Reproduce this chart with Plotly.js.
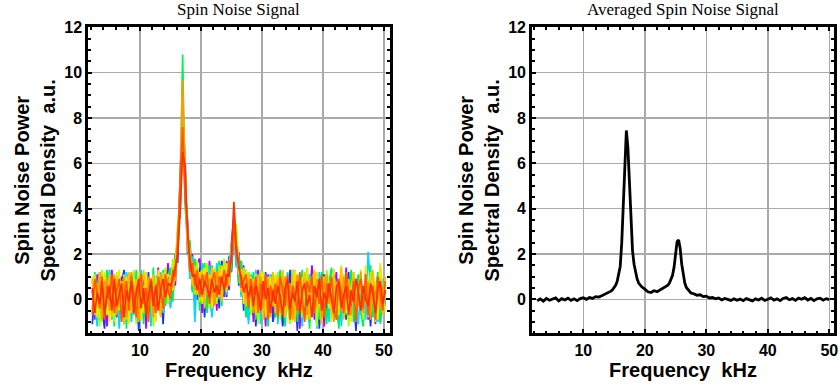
<!DOCTYPE html>
<html>
<head>
<meta charset="utf-8">
<script src="https://cdn.plot.ly/plotly-3.0.1.min.js"></script>
<style>html,body{margin:0;padding:0;background:#fff;}#chart{width:840px;height:392px;}</style>
</head>
<body>
<div id="chart"></div>
<script>
// Frequency grid (kHz) of the individual spectra
const freq = [2.2,2.6,3.0,3.4,3.8,4.2,4.6,5.0,5.4,5.8,6.2,6.6,7.0,7.4,7.8,8.2,8.6,9.0,9.4,9.8,
  10.2,10.6,11.0,11.4,11.8,12.2,12.6,13.0,13.4,13.8,14.2,14.6,15.0,15.4,15.8,16.2,16.6,17.0,17.4,17.8,
  18.2,18.6,19.0,19.4,19.8,20.2,20.6,21.0,21.4,21.8,22.2,22.6,23.0,23.4,23.8,24.2,24.6,25.0,25.4,25.8,
  26.2,26.6,27.0,27.4,27.8,28.2,28.6,29.0,29.4,29.8,30.2,30.6,31.0,31.4,31.8,32.2,32.6,33.0,33.4,33.8,
  34.2,34.6,35.0,35.4,35.8,36.2,36.6,37.0,37.4,37.8,38.2,38.6,39.0,39.4,39.8,40.2,40.6,41.0,41.4,41.8,
  42.2,42.6,43.0,43.4,43.8,44.2,44.6,45.0,45.4,45.8,46.2,46.6,47.0,47.4,47.8,48.2,48.6,49.0,49.4,49.8,50.2];

// Individual spin-noise spectra (a.u.)
const specPurple = [0.4,-0.9,1.1,0.2,-0.5,0.9,-1.2,0.3,1.3,-0.2,-0.8,0.6,1.0,-1.1,0.1,0.7,-0.4,1.2,-0.9,0.5,-0.1,1.1,-1.3,0.4,0.9,-0.6,0.2,1.4,-0.7,0.8,0.0,1.6,
  -0.3,1.5,0.6,3.1,3.8,9.2,4.6,3.5,1.0,2.0,-0.2,1.6,1.8,-0.6,1.2,-0.3,1.7,0.2,1.3,-0.5,1.6,0.9,0.1,1.7,0.4,2.5,3.6,1.5,2.1,0.2,1.5,-0.6,1.0,0.9,
  -1.0,0.8,1.3,-0.4,0.6,-1.2,1.1,0.3,-0.7,
  0.9,-0.3,1.2,-1.1,0.5,0.1,-0.8,1.3,-0.2,0.7,-1.3,0.4,1.0,-0.6,0.2,1.5,-0.9,0.3,-0.1,1.1,-1.2,0.6,0.8,-0.5,0.0,1.2,-1.0,0.5,-0.3,1.4,-0.7,0.2,0.9,-1.3,0.6,1.1,-0.4,0.3,-0.9,1.0,0.1,-1.1,0.7,1.3,-0.2,0.4];
const specBlue = [-1.1,0.6,0.2,1.2,-0.4,-1.3,0.8,0.1,-0.6,1.0,0.4,-1.0,0.7,1.3,-0.3,-0.9,1.1,0.0,0.6,-1.4,0.9,0.3,-0.5,1.2,-0.8,0.5,1.0,-0.2,0.7,-1.1,1.3,0.4,
  1.2,0.1,2.0,1.6,5.6,8.1,6.2,2.0,2.5,0.4,1.7,0.0,1.4,0.9,-0.8,1.5,0.6,-0.7,1.1,1.3,-0.4,1.7,1.2,0.1,1.9,1.2,3.0,2.8,0.6,1.7,-0.5,1.3,-0.9,0.8,
  0.5,-1.2,1.0,0.2,-0.6,1.2,-0.3,0.9,-1.0,
  -0.4,1.1,0.3,-1.2,0.8,-0.1,1.3,-0.7,0.5,-1.4,0.9,0.2,-0.5,1.2,-1.0,0.6,-0.2,1.0,-1.3,0.4,1.1,-0.8,0.3,-0.6,1.3,0.0,-1.1,0.8,0.5,-0.9,1.2,-0.3,0.6,-1.4,1.0,0.1,-0.7,1.2,0.3,-1.2,0.7,-0.4,1.1,-1.0,0.5,-0.2];
const specCyan = [0.8,-0.2,-1.2,0.5,1.1,-0.7,0.3,1.3,-0.9,0.0,0.9,-1.3,0.4,-0.1,1.2,0.6,-1.0,0.2,1.0,-0.5,1.3,-0.8,0.1,0.7,-1.2,1.1,-0.3,0.5,1.2,-0.6,0.3,0.9,
  -0.4,1.6,0.9,2.9,4.0,7.0,5.5,3.2,0.9,1.9,-1.0,1.2,0.2,1.6,-0.3,0.9,1.5,-0.8,0.6,1.6,0.0,1.1,1.5,0.2,1.6,2.4,2.9,1.4,1.9,0.1,1.2,0.8,-1.1,1.1,
  -0.6,1.3,0.4,-1.1,0.9,0.2,-0.8,1.1,0.5,
  1.0,-1.1,0.4,0.8,-0.5,1.2,-0.9,0.2,1.3,-0.3,0.6,-1.2,0.9,0.0,1.1,-0.7,0.5,-1.3,1.2,0.3,-0.4,0.8,-1.0,1.3,0.1,-0.6,0.9,-1.2,0.4,1.0,-0.8,0.6,1.2,-0.1,-1.1,0.7,0.3,-0.9,2.1,0.5,-0.5,-0.1,-1.0,0.6,0.9,-0.3];
const specGreen = [-0.6,1.2,0.3,-1.0,0.7,0.2,1.3,-0.8,0.5,-1.2,1.0,0.0,-0.4,0.9,-1.3,1.1,0.4,-0.7,1.3,-0.2,0.6,-1.1,1.0,0.1,-0.5,1.4,-0.9,0.8,0.2,1.3,-0.3,1.0,
  1.4,-0.1,1.9,2.6,5.0,10.8,4.2,2.4,2.6,0.3,1.8,1.1,-0.5,1.3,1.6,-0.6,0.8,1.5,-0.2,1.0,1.7,-0.3,1.3,1.4,0.7,1.5,3.7,3.0,0.7,1.7,0.3,-0.8,1.2,0.4,
  1.2,-0.9,0.6,1.1,-0.4,0.3,-1.2,0.8,1.2,
  -0.8,0.5,1.3,-0.1,-1.2,0.9,0.4,-0.6,1.1,-1.0,0.2,1.3,-0.4,0.7,-1.3,1.0,0.6,-0.2,-0.9,1.2,0.3,-1.1,0.8,1.4,-0.5,0.2,-1.3,1.1,0.5,-0.7,0.0,1.3,-1.0,0.6,1.1,-0.6,-1.2,0.9,0.2,1.5,-0.8,0.4,1.2,-1.1,0.7,0.1];
const specLime = [1.0,-0.3,0.6,-1.2,1.3,0.1,-0.7,0.9,0.4,-1.0,1.2,-0.5,0.2,1.1,-0.9,0.7,-0.2,1.3,-1.1,0.5,0.9,-0.6,1.2,-0.1,0.3,-1.2,1.0,0.6,-0.4,0.9,1.4,-0.2,
  0.3,1.8,1.1,3.4,4.4,8.8,5.8,2.6,1.5,1.4,0.2,1.7,-0.1,1.3,0.8,1.6,-0.4,1.2,1.0,-0.2,1.5,0.6,1.8,0.3,1.5,2.0,3.2,3.3,1.6,0.4,1.4,0.6,1.2,-0.7,
  0.9,0.2,-1.1,1.3,0.5,-0.6,1.0,-0.2,0.7,
  0.6,1.2,-0.9,0.3,1.0,-0.4,-1.1,1.3,0.5,0.0,1.1,-0.8,0.4,1.4,-0.6,-0.1,1.2,-1.2,0.8,0.2,-0.5,1.3,0.6,-1.0,1.0,0.3,-0.7,1.5,-0.3,0.9,-1.2,0.5,1.1,-0.4,0.2,1.3,-0.9,0.7,-0.2,1.2,0.4,-1.0,0.8,1.4,-0.6,0.3];
const specYellow = [0.2,1.1,-0.8,0.7,-0.3,1.2,0.5,-1.0,0.9,0.3,-0.6,1.3,-0.2,0.6,1.0,-1.1,0.8,0.1,-0.5,1.2,-0.9,0.4,1.1,-0.4,0.7,0.2,-1.0,1.3,0.5,-0.1,0.8,1.1,
  0.9,0.4,1.7,2.2,5.2,9.0,4.9,2.9,2.1,0.7,1.4,0.3,1.2,-0.2,1.4,0.5,1.1,-0.4,1.4,0.8,0.1,1.5,0.4,1.6,1.1,2.2,3.0,2.6,1.1,1.3,-0.2,1.3,0.1,1.0,
  0.3,1.1,-0.5,0.8,1.2,-0.8,0.4,1.0,-0.3,
  1.1,-0.2,0.5,1.2,-0.7,0.8,0.2,-1.0,1.3,0.4,-0.5,0.9,1.1,-0.9,0.3,0.7,-0.3,1.2,0.0,-1.1,1.0,0.5,-0.4,0.9,1.3,-0.8,0.2,0.6,1.1,-0.6,0.4,-1.0,1.2,0.7,-0.2,0.9,-0.7,1.5,0.1,-0.4,1.0,0.6,-0.9,1.6,0.2,-0.5];
const specAmber = [0.9,-0.7,0.4,1.2,-1.0,0.6,-0.2,1.1,-0.8,0.3,1.0,-0.4,0.8,-1.1,0.5,1.2,-0.6,0.2,0.9,-1.0,0.4,1.3,-0.3,-0.9,0.7,1.1,-0.5,0.3,-0.8,1.2,0.5,0.2,
  1.1,0.5,1.9,2.9,4.2,8.3,6.0,2.2,1.9,0.6,1.5,0.2,1.1,1.3,-0.4,1.0,0.3,1.4,0.0,0.8,1.3,-0.1,1.2,0.9,0.6,2.3,2.7,2.0,1.7,0.3,1.2,-0.3,1.1,0.6,
  0.8,-0.7,1.1,0.2,-0.9,1.0,0.4,-0.4,1.2,
  -0.6,1.0,0.2,1.3,-0.8,0.5,-0.2,1.1,-1.0,0.7,0.3,-0.6,1.2,0.0,-0.9,0.8,1.3,-0.4,0.4,-1.1,1.0,0.2,0.7,-0.7,1.1,-0.3,0.5,1.4,-0.9,0.1,0.9,-0.5,1.2,-1.0,0.3,0.8,-0.2,1.1,-0.8,0.6,1.3,-0.4,0.0,0.9,-0.7,1.0];
const specOrange = [-0.4,0.8,0.1,1.0,-0.9,0.4,0.9,-0.5,0.2,1.1,-0.7,0.5,0.0,1.0,-0.8,0.3,1.2,-0.4,0.6,-0.9,0.8,0.2,-0.6,1.0,0.4,-0.8,0.7,0.1,1.1,-0.5,0.6,0.9,
  0.2,1.2,0.8,2.6,4.8,9.7,5.4,2.5,1.3,1.7,0.4,1.0,0.9,0.1,1.1,0.2,0.9,0.7,-0.3,1.2,0.5,1.0,0.8,0.5,1.4,1.9,2.8,2.4,1.5,0.6,1.0,0.0,0.9,0.3,
  -0.6,0.7,0.3,1.0,-0.4,0.6,0.9,-0.8,0.5,
  0.3,0.9,-0.6,0.5,1.0,-0.3,0.7,-0.9,0.4,1.1,-0.5,0.2,0.8,-0.7,1.0,0.1,-0.4,0.9,0.5,-0.8,0.6,1.1,-0.2,0.3,-1.0,0.8,0.4,-0.5,1.0,0.0,0.6,-0.7,0.9,0.2,-0.3,1.2,-0.6,0.4,0.8,-0.9,0.5,0.1,1.0,-0.4,0.6,0.2];
const specRedOrange = [-0.7,0.9,0.3,-0.4,1.0,-0.9,0.6,0.0,1.1,-0.6,0.4,0.9,-1.0,0.2,0.8,-0.5,1.0,0.3,-0.8,0.6,1.1,-0.2,0.5,-1.0,0.9,0.1,-0.6,1.0,0.3,-0.4,1.1,0.4,
  0.0,1.3,1.0,2.5,5.4,7.6,4.4,3.3,1.2,1.6,0.6,1.3,0.1,1.1,0.6,1.2,-0.2,0.8,1.2,0.1,1.0,0.7,1.3,0.6,1.7,1.6,3.4,1.9,1.8,0.5,0.8,1.1,-0.4,0.9,
  0.2,1.0,-0.6,0.7,0.1,1.1,-0.9,0.6,-0.1,
  0.7,-0.8,1.0,0.4,-0.3,1.1,-0.9,0.6,0.2,-0.5,1.2,0.0,-1.0,0.8,0.3,1.0,-0.6,0.5,-0.2,1.1,-0.8,0.7,0.1,1.0,-0.4,-0.9,0.9,0.3,-0.6,1.2,0.2,-0.3,0.8,-1.0,0.5,0.9,-0.4,1.1,-0.7,0.3,0.6,-0.9,1.0,0.2,-0.5,0.8];
const specRed = [0.5,-0.6,0.3,-0.2,0.8,-0.7,0.1,0.6,-0.5,0.9,-0.3,0.2,0.7,-0.8,0.4,-0.1,0.8,-0.6,0.3,0.9,-0.4,0.5,-0.7,0.2,0.8,-0.3,0.6,-0.5,0.4,0.9,0.1,0.7,
  0.6,0.9,1.5,2.0,3.9,6.5,5.9,3.0,1.8,1.0,1.1,0.4,0.9,0.2,0.8,0.5,0.1,0.9,0.3,0.6,0.2,1.0,0.4,1.1,1.0,2.0,4.3,2.3,1.4,1.0,0.3,0.7,0.1,0.6,
  -0.3,0.6,0.2,-0.5,0.8,0.0,0.5,-0.6,0.4,
  -0.2,0.6,0.1,-0.7,0.5,0.9,-0.4,0.3,-0.1,0.8,-0.6,0.4,0.7,-0.3,0.2,-0.8,0.6,0.1,0.9,-0.5,0.3,-0.2,0.7,0.0,-0.6,0.5,0.8,-0.4,0.2,0.6,-0.7,0.4,-0.1,0.9,0.3,-0.5,0.6,0.0,-0.3,0.7,0.2,-0.6,0.5,0.8,-0.2,0.4];

const spectra = [specPurple, specBlue, specCyan, specGreen, specLime, specYellow, specAmber, specOrange, specRedOrange, specRed];
const spectraColors = ['#b400ff','#1038ff','#00d8ff','#00f05a','#a8ff00','#ffe000','#ffbe00','#ff9a00','#ff5a00','#ff3000'];

// Averaged spectrum
const avgFreq = [2.5,3.0,3.5,4.0,4.5,5.0,5.5,6.0,6.5,7.0,7.5,8.0,8.5,9.0,9.5,10.0,10.5,11.0,11.5,12.0,12.5,13.0,13.5,14.0,14.5,
  14.75,15.0,15.25,15.5,15.75,16.0,16.25,16.5,16.75,17.0,17.25,17.5,17.75,18.0,18.25,18.5,18.75,19.0,
  19.5,20.0,20.5,21.0,21.5,22.0,22.5,23.0,23.5,
  23.75,24.0,24.25,24.5,24.75,25.0,25.25,25.5,25.75,26.0,26.25,26.5,26.75,27.0,27.25,27.5,
  28.0,28.5,29.0,29.5,30.0,30.5,31.0,31.5,32.0,32.5,33.0,33.5,34.0,34.5,35.0,35.5,36.0,36.5,37.0,37.5,38.0,38.5,39.0,39.5,
  40.0,40.5,41.0,41.5,42.0,42.5,43.0,43.5,44.0,44.5,45.0,45.5,46.0,46.5,47.0,47.5,48.0,48.5,49.0,49.5,50.0];
const avgPSD = [-0.06,0.02,-0.08,0.04,-0.04,0.01,0.06,-0.07,0.03,-0.03,0.05,-0.05,0.02,-0.06,0.03,0.07,0.0,0.08,0.04,0.12,0.10,0.16,0.22,0.28,0.36,
  0.42,0.52,0.62,0.78,1.05,1.45,2.5,4.3,6.4,7.45,6.7,4.9,3.2,2.15,1.55,1.15,0.9,0.72,
  0.55,0.45,0.33,0.30,0.38,0.34,0.42,0.48,0.55,
  0.62,0.72,0.85,1.05,1.4,2.0,2.55,2.62,2.25,1.55,1.05,0.72,0.52,0.42,0.34,0.28,
  0.24,0.18,0.2,0.12,0.14,0.06,0.08,0.02,0.06,-0.03,0.04,0.0,-0.05,0.02,-0.04,0.01,-0.06,0.03,-0.02,-0.07,0.02,-0.03,0.05,-0.05,
  0.0,0.06,-0.04,0.02,-0.06,0.04,0.08,-0.02,0.03,-0.05,0.05,0.0,0.07,-0.03,0.04,-0.06,0.02,0.05,-0.04,0.03,-0.01];

const xTicks = [10,20,30,40,50];
const yTicks = [0,2,4,6,8,10,12];
const panelTitles = ['Spin Noise Signal','Averaged Spin Noise Signal'];
const xTitle = 'Frequency\u00a0\u00a0kHz';
const yTitle = 'Spin Noise Power<br>Spectral Density\u00a0\u00a0a.u.';

const traces = spectra.map((s,i)=>({
  x: freq, y: s, type:'scatter', mode:'lines', xaxis:'x', yaxis:'y',
  line:{color: spectraColors[i], width:1.7}, showlegend:false, hoverinfo:'skip'
}));
traces.push({x: avgFreq, y: avgPSD, type:'scatter', mode:'lines', xaxis:'x2', yaxis:'y2',
  line:{color:'#000', width:2.8}, showlegend:false});

const tickFont = {family:'Liberation Sans, Arial, sans-serif', size:16, color:'#000', weight:'bold'};
const titleFont = {family:'Liberation Sans, Arial, sans-serif', size:20, color:'#000', weight:'bold'};

function xax(domain, range){
  return {domain, range, tickvals:xTicks, ticks:'inside', ticklen:4, tickwidth:2, tickcolor:'#000',
    showline:true, linewidth:3, linecolor:'#000', mirror:'allticks',
    showgrid:true, gridcolor:'#aaaaaa', gridwidth:1.5, zeroline:false,
    minor:{dtick:2, tick0:0, ticks:'inside', ticklen:2.5, tickwidth:2, tickcolor:'#000', showgrid:false},
    tickfont:tickFont, title:{text:xTitle, font:titleFont, standoff:6}, automargin:false, fixedrange:true};
}
function yax(domain, anchor){
  return {domain, range:[-1.5,12], tickvals:yTicks, ticks:'inside', ticklen:4, tickwidth:2, tickcolor:'#000',
    showline:true, linewidth:3, linecolor:'#000', mirror:'allticks', anchor,
    showgrid:true, gridcolor:'#aaaaaa', gridwidth:1.5, zeroline:false,
    minor:{dtick:0.5, tick0:0, ticks:'inside', ticklen:2.5, tickwidth:2, tickcolor:'#000', showgrid:false},
    tickfont:tickFont, title:{text:yTitle, font:titleFont, standoff:4}, automargin:false, fixedrange:true};
}

const yDom = [1-333.3/392, 1-27.4/392];
const layout = {
  width:840, height:392, margin:{l:0,r:0,t:0,b:0}, paper_bgcolor:'#fff', plot_bgcolor:'#fff',
  showlegend:false,
  xaxis: Object.assign(xax([88.3/840, 389.5/840],[1.54,50.9]), {anchor:'y'}),
  yaxis: yax(yDom,'x'),
  xaxis2: Object.assign(xax([532.2/840, 833.8/840],[1.69,50.73]), {anchor:'y2'}),
  yaxis2: yax(yDom,'x2'),
  annotations: panelTitles.map((t,i)=>({
    text:t, xref:(i===0?'x domain':'x2 domain'), yref:'paper', x:0.5, y:1-9/392,
    xanchor:'center', yanchor:'middle', showarrow:false,
    font:{family:'Liberation Serif, Times New Roman, serif', size:17, color:'#000'}
  }))
};
Plotly.newPlot('chart', traces, layout, {staticPlot:true, displayModeBar:false});
</script>
</body>
</html>
